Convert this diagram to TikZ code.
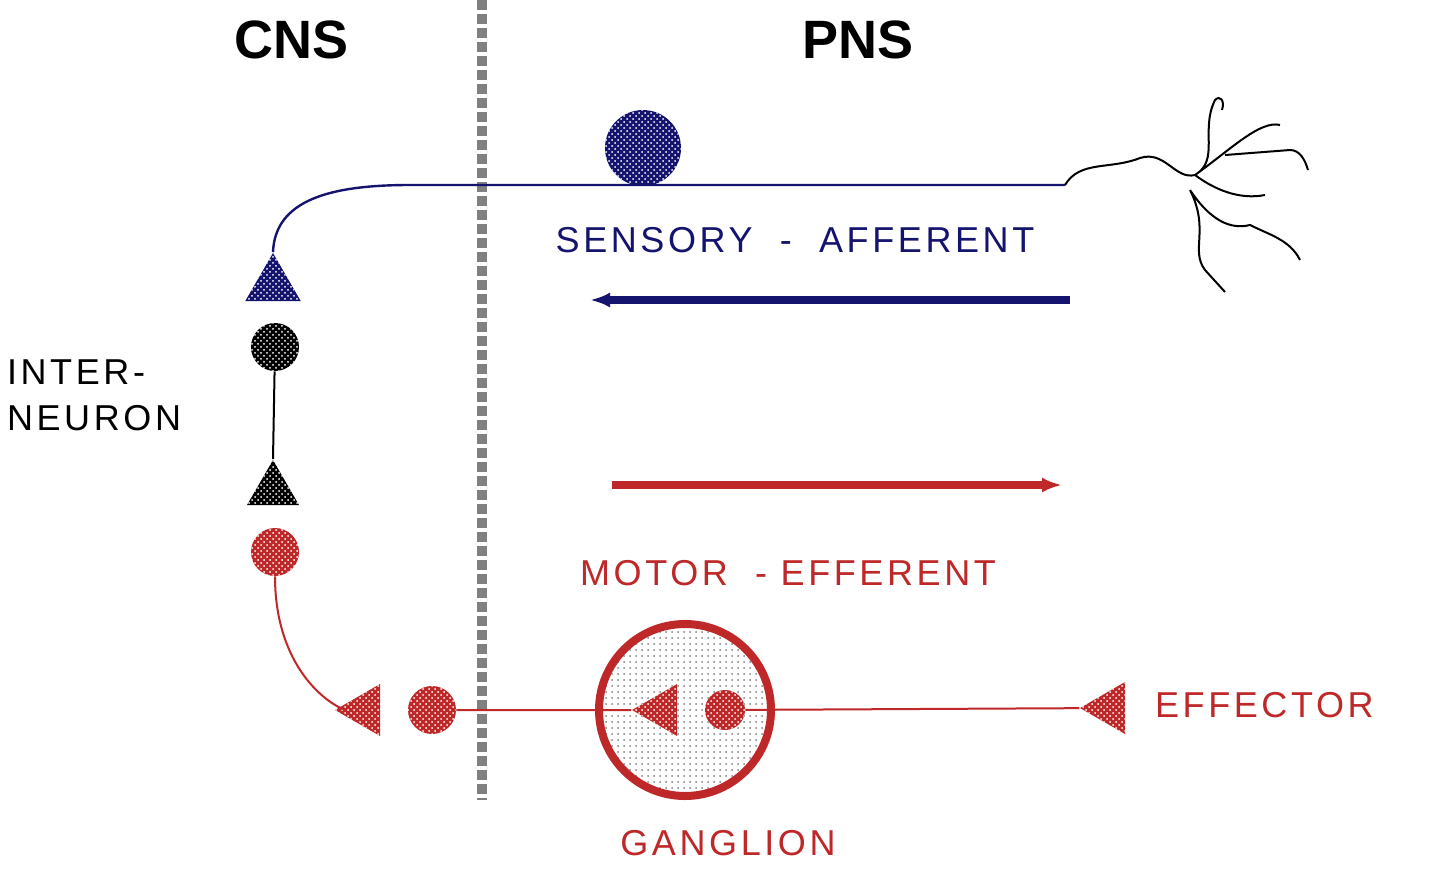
\documentclass[tikz,border=0pt]{standalone}
\usepackage{fontspec}
\setmainfont{Liberation Sans}
\usetikzlibrary{patterns,arrows.meta,shapes.geometric}
\definecolor{navy}{RGB}{20,20,110}
\definecolor{dred}{RGB}{190,40,40}
\tikzset{
 lbl/.style={font=\fontsize{18}{23}\selectfont\addfontfeature{LetterSpace=10}},
 big/.style={font=\fontsize{27}{30}\selectfont\bfseries},
 dot/.style={circle,minimum size=24pt,inner sep=0pt,fill=#1,postaction={pattern=crosshatch dots,pattern color=white}},
 tri/.style={regular polygon,regular polygon sides=3,minimum size=30pt,inner sep=0pt,fill=#1,postaction={pattern=crosshatch dots,pattern color=white}},
}
\begin{document}
\begin{tikzpicture}[x=0.5pt,y=-0.5pt]
\useasboundingbox (0,0) rectangle (1440,884);
\fill[white] (0,0) rectangle (1440,884);
\draw[gray,line width=5pt,dotted] (482,0) -- (482,800);
\node[big] (cns) at (292,40) {CNS};
\node[big] (pns) at (858,40) {PNS};
% sensory
\node[dot=navy,minimum size=38pt] (sb) at (643,148) {};
\node[tri=navy,minimum size=32pt] (st) at (273,285) {};
\coordinate (se) at (1065,185);
\draw[navy,line width=1.2pt] (st.north) .. controls (275,200) and (330,185) .. (410,185) -- (se);
\draw[black,line width=1pt] (se) .. controls (1080,160) and (1110,170) .. (1140,158) .. controls (1165,150) and (1175,180) .. (1195,175)
 (1195,175) .. controls (1220,160) and (1200,130) .. (1215,100) .. controls (1220,95) and (1225,100) .. (1222,110)
 (1195,175) .. controls (1230,150) and (1260,120) .. (1280,125)
 (1225,155) -- (1290,150) .. controls (1300,150) and (1305,160) .. (1308,170)
 (1195,175) .. controls (1215,190) and (1240,200) .. (1265,195)
 (1190,190) .. controls (1210,220) and (1230,230) .. (1250,225) .. controls (1270,235) and (1290,240) .. (1300,260)
 (1190,190) .. controls (1210,230) and (1190,250) .. (1205,270) -- (1225,292);
\node[lbl,navy] (sa) at (795,240) {SENSORY\ \ -\ \ AFFERENT};
\coordinate (ba) at (1070,300); \coordinate (bb) at (590,300);
\draw[navy,line width=4pt,-{Latex[length=10pt]}] (ba) -- (bb);
% interneuron
\node[dot=black] (ic) at (275,347) {};
\node[tri=black] (it) at (273,490) {};
\draw[line width=1pt] (ic) -- (it.north);
\node[lbl,align=left,anchor=west] (inl) at (0,395) {INTER-\\NEURON};
% motor
\node[dot=dred] (mc) at (275,552) {};
\node[tri=dred,rotate=90] (mt) at (365,710) {};
\draw[dred,line width=1pt] (mc.south) .. controls (275,660) and (320,700) .. (345,710);
\node[dot=dred] (mc2) at (432,710) {};
\node[circle,draw=dred,line width=4pt,minimum size=86pt,pattern=dots,pattern color=gray] (g) at (685,710) {};
\node[tri=dred,rotate=90] (gt) at (662,710) {};
\node[dot=dred,minimum size=20pt] (gc) at (725,710) {};
\node[tri=dred,rotate=90] (et) at (1110,708) {};
\draw[dred,line width=1pt] (mc2) -- (gt) (gc) -- (et);
\node[lbl,dred,anchor=west] (ef) at (1148,705) {EFFECTOR};
\coordinate (ra) at (612,485); \coordinate (rb) at (1062,485);
\draw[dred,line width=4pt,-{Latex[length=10pt]}] (ra) -- (rb);
\node[lbl,dred] (me) at (788,573) {MOTOR\ \ -\ EFFERENT};
\node[lbl,dred] (gl) at (728,843) {GANGLION};
\end{tikzpicture}
\end{document}
